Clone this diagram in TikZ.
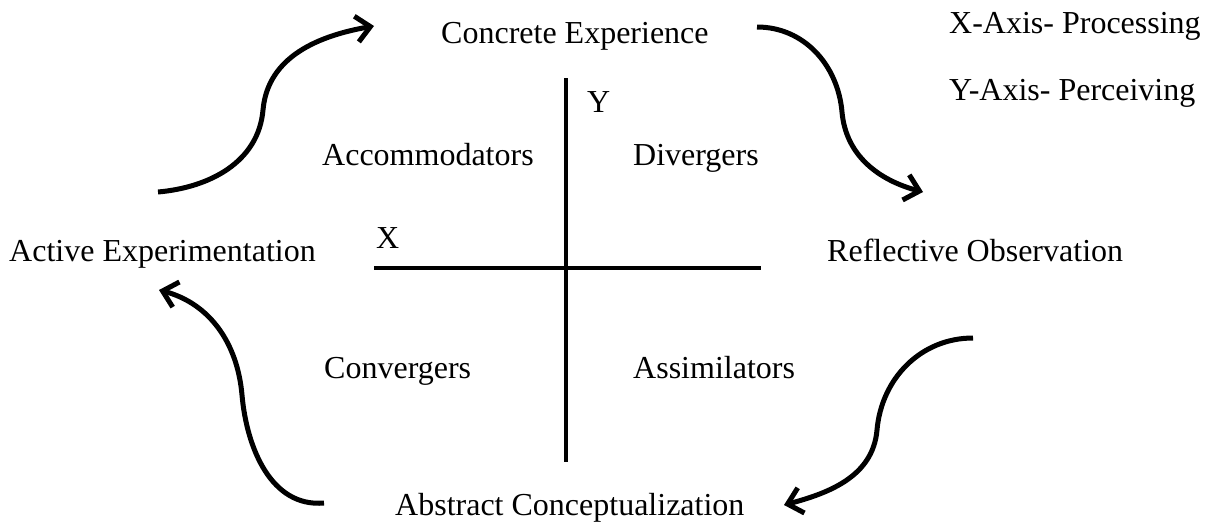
\documentclass[tikz,border=0pt]{standalone}
\usepackage{fontspec}
\setmainfont{Liberation Serif}
\usetikzlibrary{arrows.meta}
\begin{document}
\begin{tikzpicture}[x=1pt,y=-1pt,
  lbl/.style={inner sep=0pt,anchor=base west,font=\fontsize{32}{38}\selectfont},
  cyc/.style={line width=5pt,-{Straight Barb[length=14pt,width=26pt,line width=5pt]}},
  axis/.style={line width=4.5pt}]
\useasboundingbox (0,0) rectangle (1212,522);
\node[lbl] (ce) at (441,43) {Concrete Experience};
\node[lbl] (xa) at (949,33) {X-Axis- Processing};
\node[lbl] (ya) at (949,100) {Y-Axis- Perceiving};
\node[lbl] (yl) at (587,112) {Y};
\node[lbl] (acc) at (322,165) {Accommodators};
\node[lbl] (div) at (633,165) {Divergers};
\node[lbl] (xl) at (376,248) {X};
\node[lbl] (ae) at (9,261) {Active Experimentation};
\node[lbl] (ro) at (827,261) {Reflective Observation};
\node[lbl] (con) at (324,378) {Convergers};
\node[lbl] (ass) at (633,378) {Assimilators};
\node[lbl] (ac) at (395,515) {Abstract Conceptualization};
% axes
\coordinate (vt) at (566,78);
\coordinate (vb) at (566,462);
\coordinate (hl) at (374,268);
\coordinate (hr) at (761,268);
\draw[axis] (vt) -- (vb);
\draw[axis] (hl) -- (hr);
% cycle arrows
\coordinate (a1s) at (158,192);
\coordinate (a1m) at (263,110);
\coordinate (a1e) at (374,26);
\draw[cyc] (a1s) to[out=5,in=-95] (a1m) to[out=85,in=190] (a1e);
\coordinate (a2s) at (757,27);
\coordinate (a2m) at (842,112);
\coordinate (a2e) at (923,192);
\draw[cyc] (a2s) to[out=0,in=95] (a2m) to[out=-85,in=165] (a2e);
\coordinate (a3s) at (973,338);
\coordinate (a3m) at (877,430);
\coordinate (a3e) at (784,505);
\draw[cyc] (a3s) to[out=180,in=85] (a3m) to[out=-95,in=15] (a3e);
\coordinate (a4s) at (324,503);
\coordinate (a4m) at (242,395);
\coordinate (a4e) at (159,290);
\draw[cyc] (a4s) to[out=185,in=-85] (a4m) to[out=95,in=-15] (a4e);
\end{tikzpicture}
\end{document}
